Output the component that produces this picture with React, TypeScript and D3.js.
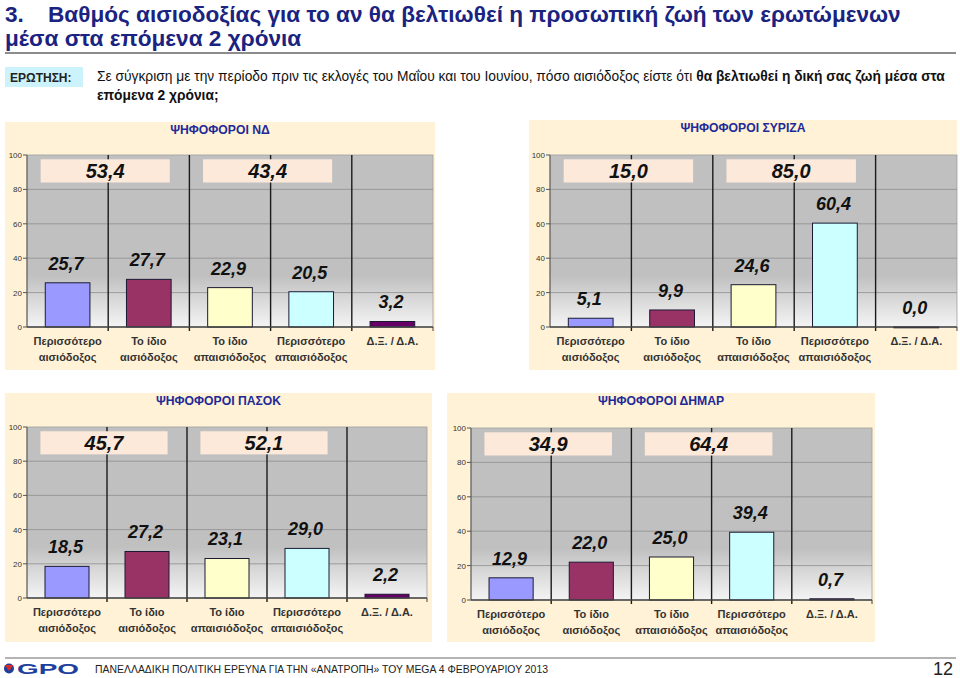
import React from "react";
import * as d3 from "d3";

// ---------- DATA ----------
const CATEGORIES: string[][] = [
  ["Περισσότερο", "αισιόδοξος"],
  ["Το ίδιο", "αισιόδοξος"],
  ["Το ίδιο", "απαισιόδοξος"],
  ["Περισσότερο", "απαισιόδοξος"],
  ["Δ.Ξ. / Δ.Α."],
];
const PANEL_TITLES = ["ΨΗΦΟΦΟΡΟΙ ΝΔ", "ΨΗΦΟΦΟΡΟΙ ΣΥΡΙΖΑ", "ΨΗΦΟΦΟΡΟΙ ΠΑΣΟΚ", "ΨΗΦΟΦΟΡΟΙ ΔΗΜΑΡ"];
const ND_VALUES = [25.7, 27.7, 22.9, 20.5, 3.2];
const SYRIZA_VALUES = [5.1, 9.9, 24.6, 60.4, 0.0];
const PASOK_VALUES = [18.5, 27.2, 23.1, 29.0, 2.2];
const DHMAR_VALUES = [12.9, 22.0, 25.0, 39.4, 0.7];
const ND_TOTALS = [53.4, 43.4];
const SYRIZA_TOTALS = [15.0, 85.0];
const PASOK_TOTALS = [45.7, 52.1];
const DHMAR_TOTALS = [34.9, 64.4];
const Y_TICKS = [0, 20, 40, 60, 80, 100];
const BAR_COLORS = ["#9999FF", "#993366", "#FFFFCC", "#CCFFFF", "#660066"];

const TITLE_NUM = "3.";
const TITLE_LINE1 = "Βαθμός αισιοδοξίας για το αν θα βελτιωθεί η προσωπική ζωή των ερωτώμενων";
const TITLE_LINE2 = "μέσα στα επόμενα 2 χρόνια";
const Q_LABEL = "ΕΡΩΤΗΣΗ:";
const Q_NORMAL = "Σε σύγκριση με την περίοδο πριν τις εκλογές του Μαΐου και του Ιουνίου, πόσο αισιόδοξος είστε ότι ";
const Q_BOLD1 = "θα βελτιωθεί η δική σας ζωή μέσα στα";
const Q_BOLD2 = "επόμενα 2 χρόνια;";
const FOOTER = "ΠΑΝΕΛΛΑΔΙΚΗ ΠΟΛΙΤΙΚΗ ΕΡΕΥΝΑ ΓΙΑ ΤΗΝ «ΑΝΑΤΡΟΠΗ» ΤΟΥ MEGA  4  ΦΕΒΡΟΥΑΡΙΟΥ  2013";
const PAGE = "12";

// ---------- LAYOUT ----------
type Rect = { x: number; y: number; w: number; h: number };
const FRAMES: { bg: Rect; plot: Rect }[] = [
  { bg: { x: 5, y: 122, w: 430, h: 248 }, plot: { x: 27, y: 155, w: 406, h: 172 } },
  { bg: { x: 529, y: 120, w: 428, h: 250 }, plot: { x: 550, y: 155, w: 407, h: 172 } },
  { bg: { x: 5, y: 393, w: 427, h: 249 }, plot: { x: 27, y: 427, w: 400, h: 171 } },
  { bg: { x: 447, y: 393, w: 428, h: 249 }, plot: { x: 471, y: 428, w: 401, h: 172 } },
];

const FONT = "'Liberation Sans', Arial, Helvetica, sans-serif";
const fmt = (v: number) => d3.format(".1f")(v).replace(".", ",");

function Panel({ idx, title, values, totals }: { idx: number; title: string; values: number[]; totals: number[] }) {
  const { bg, plot } = FRAMES[idx];
  const x = d3
    .scaleBand<number>()
    .domain(d3.range(CATEGORIES.length))
    .range([plot.x, plot.x + plot.w])
    .paddingInner(0.45)
    .paddingOuter(0.225);
  const y = d3.scaleLinear().domain([0, 100]).range([plot.y + plot.h, plot.y]);
  const step = x.step();
  const boundaries = d3.range(1, CATEGORIES.length).map((i) => plot.x + i * step);
  const gid = `grad${idx}`;
  const bottom = y(0);
  return (
    <g>
      <defs>
        <linearGradient id={gid} x1="0" y1="0" x2="0" y2="1">
          <stop offset="0" stopColor="#C0C0C0" />
          <stop offset="0.7" stopColor="#C0C0C0" />
          <stop offset="1" stopColor="#F4F4F4" />
        </linearGradient>
      </defs>
      <rect x={bg.x} y={bg.y} width={bg.w} height={bg.h} fill="#FFF2D6" />
      <text x={bg.x + bg.w / 2} y={bg.y + 12} textAnchor="middle" fontFamily={FONT} fontWeight="bold" fontSize={12.2} fill="#1F2A99">
        {title}
      </text>
      <rect x={plot.x} y={plot.y} width={plot.w} height={plot.h} fill={`url(#${gid})`} stroke="#A0A0A0" strokeWidth={0.8} />
      {Y_TICKS.filter((t) => t > 0 && t < 100).map((t) => (
        <line key={t} x1={plot.x} x2={plot.x + plot.w} y1={y(t)} y2={y(t)} stroke="#8E8E8E" strokeWidth={0.8} />
      ))}
      {boundaries.map((bx, i) => (
        <line key={i} x1={bx} x2={bx} y1={plot.y} y2={bottom + 4} stroke="#1A1A1A" strokeWidth={1.4} />
      ))}
      {/* totals boxes */}
      {totals.map((t, i) => {
        const cx = boundaries[i * 2] - 3;
        const bw = step * 1.59;
        return (
          <g key={i}>
            <rect x={cx - bw / 2} y={y(97.5)} width={bw} height={y(84) - y(97.5)} fill="#FCE9DA" />
            <text x={cx} y={y(86.5)} textAnchor="middle" fontFamily={FONT} fontWeight="bold" fontStyle="italic" fontSize={20} fill="#111">
              {fmt(t)}
            </text>
          </g>
        );
      })}
      {/* bars */}
      {values.map((v, i) => (
        <rect
          key={i}
          x={x(i)}
          y={y(v)}
          width={x.bandwidth()}
          height={Math.max(bottom - y(v), 0.8)}
          fill={BAR_COLORS[i]}
          stroke="#1A1A33"
          strokeWidth={1}
        />
      ))}
      {values.map((v, i) => (
        <text
          key={i}
          x={(x(i) as number) + x.bandwidth() / 2 - 1.5}
          y={y(v) - 13}
          textAnchor="middle"
          fontFamily={FONT}
          fontWeight="bold"
          fontStyle="italic"
          fontSize={18}
          fill="#111"
        >
          {fmt(v)}
        </text>
      ))}
      {/* axes */}
      <line x1={plot.x} x2={plot.x} y1={plot.y} y2={bottom} stroke="#555" strokeWidth={1} />
      {Y_TICKS.map((t) => (
        <g key={t}>
          <line x1={plot.x - 4} x2={plot.x} y1={y(t)} y2={y(t)} stroke="#555" strokeWidth={1} />
          <text x={plot.x - 5} y={y(t) + 3} textAnchor="end" fontFamily={FONT} fontSize={8} fill="#333">
            {t}
          </text>
        </g>
      ))}
      <line x1={plot.x} x2={plot.x + plot.w} y1={bottom} y2={bottom} stroke="#444" strokeWidth={1.5} />
      {[plot.x + plot.w].map((bx, i) => (
        <line key={i} x1={bx} x2={bx} y1={bottom} y2={bottom + 4} stroke="#444" strokeWidth={1} />
      ))}
      {CATEGORIES.map((lines, i) => (
        <text key={i} textAnchor="middle" fontFamily={FONT} fontWeight="bold" fontSize={11} fill="#333">
          {lines.map((l, j) => (
            <tspan key={j} x={(x(i) as number) + x.bandwidth() / 2} y={bottom + 18 + j * 15.5}>
              {l}
            </tspan>
          ))}
        </text>
      ))}
    </g>
  );
}

export default function App() {
  const panels = [
    { title: PANEL_TITLES[0], values: ND_VALUES, totals: ND_TOTALS },
    { title: PANEL_TITLES[1], values: SYRIZA_VALUES, totals: SYRIZA_TOTALS },
    { title: PANEL_TITLES[2], values: PASOK_VALUES, totals: PASOK_TOTALS },
    { title: PANEL_TITLES[3], values: DHMAR_VALUES, totals: DHMAR_TOTALS },
  ];
  return (
    <svg
      width={960}
      height={678}
      viewBox="0 0 960 678"
      style={{ position: "absolute", left: 0, top: 0, display: "block", background: "#fff" }}
    >
      <rect x={0} y={0} width={960} height={678} fill="#fff" />
      {/* title */}
      <g fontFamily={FONT} fontWeight="bold" fontSize={22.6} fill="#1A2380">
        <text x={5} y={22}>{TITLE_NUM}</text>
        <text x={48} y={22}>{TITLE_LINE1}</text>
        <text x={5} y={46}>{TITLE_LINE2}</text>
      </g>
      <line x1={5} x2={956} y1={53} y2={53} stroke="#8C8C8C" strokeWidth={2} />
      {/* question */}
      <rect x={5} y={67} width={78} height={20} fill="#CCF2FC" />
      <text x={10} y={81.5} fontFamily={FONT} fontWeight="bold" fontSize={12} fill="#222">
        {Q_LABEL}
      </text>
      <text x={97} y={81} fontFamily={FONT} fontSize={13.8} fill="#111">
        {Q_NORMAL}
        <tspan fontWeight="bold">{Q_BOLD1}</tspan>
      </text>
      <text x={97} y={100} fontFamily={FONT} fontWeight="bold" fontSize={13.8} fill="#111">
        {Q_BOLD2}
      </text>
      {panels.map((p, i) => (
        <Panel key={i} idx={i} title={p.title} values={p.values} totals={p.totals} />
      ))}
      {/* footer */}
      <line x1={5} x2={956} y1={658} y2={658} stroke="#9A9A9A" strokeWidth={1.5} />
      <g>
        <circle cx={9} cy={668.5} r={5} fill="#1D3F9E" />
        <path d="M4.5,665 L13.5,665 L9,671 Z" fill="#D42A2A" />
        <text x={17} y={674} fontFamily={FONT} fontWeight="900" fontSize={15} fill="#1D3F9E" textLength={62} lengthAdjust="spacingAndGlyphs">
          GPO
        </text>
      </g>
      <text x={95} y={673} fontFamily={FONT} fontSize={11} fill="#222" textLength={453} lengthAdjust="spacingAndGlyphs">
        {FOOTER}
      </text>
      <text x={953} y={675} textAnchor="end" fontFamily={FONT} fontSize={18} fill="#222">
        {PAGE}
      </text>
    </svg>
  );
}
